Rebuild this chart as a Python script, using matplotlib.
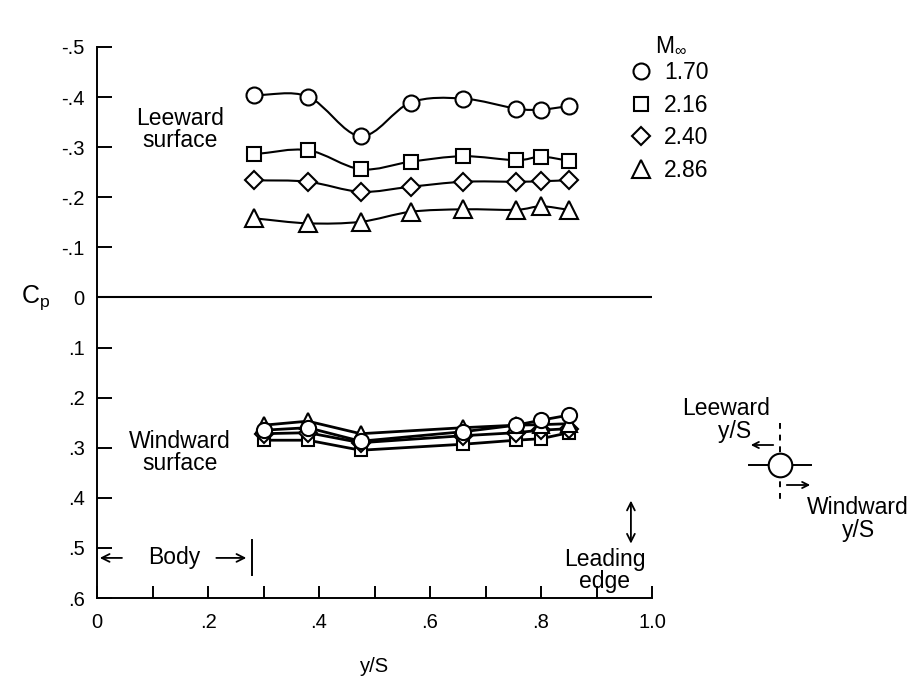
import matplotlib.pyplot as plt
import numpy as np
from matplotlib.path import Path
from matplotlib.patches import PathPatch, FancyArrowPatch
from matplotlib.lines import Line2D

plt.rcParams.update({
    "font.family": ["Liberation Sans", "DejaVu Sans"],
    "font.size": 14,
    "axes.linewidth": 1.4,
    "mathtext.fontset": "custom",
    "mathtext.rm": "Liberation Sans",
})

# Spanwise stations, y/S
ys_lee = [0.283, 0.38, 0.475, 0.565, 0.66, 0.755, 0.80, 0.85]
ys_win = [0.30, 0.38, 0.475, 0.66, 0.755, 0.80, 0.85]

mach = ["1.70", "2.16", "2.40", "2.86"]
markers = ["o", "s", "D", "^"]
msizes = [11.5, 9.5, 9.5, 12.5]

# Leeward surface Cp, one list per Mach number
cp_lee_170 = [-0.404, -0.401, -0.322, -0.389, -0.397, -0.377, -0.375, -0.382]
cp_lee_216 = [-0.286, -0.294, -0.256, -0.271, -0.282, -0.274, -0.281, -0.273]
cp_lee_240 = [-0.234, -0.231, -0.211, -0.221, -0.231, -0.231, -0.232, -0.234]
cp_lee_286 = [-0.158, -0.148, -0.151, -0.171, -0.176, -0.175, -0.182, -0.175]

# Windward surface Cp
cp_win_170 = [0.265, 0.260, 0.287, 0.268, 0.255, 0.245, 0.235]
cp_win_216 = [0.285, 0.285, 0.305, 0.293, 0.285, 0.282, 0.270]
cp_win_240 = [0.272, 0.270, 0.290, 0.276, 0.270, 0.265, 0.262]
cp_win_286 = [0.255, 0.247, 0.272, 0.260, 0.255, 0.254, 0.252]

cp_lee = [cp_lee_170, cp_lee_216, cp_lee_240, cp_lee_286]
cp_win = [cp_win_170, cp_win_216, cp_win_240, cp_win_286]

body_end = 0.28
leading_edge_mark = 0.962


def fair_curve(x, y):
    """Catmull-Rom fairing through the points, as cubic Bezier segments."""
    x = np.asarray(x, float)
    y = np.asarray(y, float)
    px = np.concatenate([[2 * x[0] - x[1]], x, [2 * x[-1] - x[-2]]])
    py = np.concatenate([[2 * y[0] - y[1]], y, [2 * y[-1] - y[-2]]])
    verts = [(x[0], y[0])]
    codes = [Path.MOVETO]
    for i in range(1, len(px) - 2):
        c1 = (px[i] + (px[i + 1] - px[i - 1]) / 6, py[i] + (py[i + 1] - py[i - 1]) / 6)
        c2 = (px[i + 1] - (px[i + 2] - px[i]) / 6, py[i + 1] - (py[i + 2] - py[i]) / 6)
        verts += [c1, c2, (px[i + 1], py[i + 1])]
        codes += [Path.CURVE4] * 3
    return Path(verts, codes)


W, H = 922, 695
fig = plt.figure(figsize=(W / 100, H / 100), dpi=100)
ax = fig.add_axes([97 / W, 97 / H, 555 / W, 551 / H])

# leeward: faired curves under open symbols
handles = []
for cp, mk, ms, lab in zip(cp_lee, markers, msizes, mach):
    ax.add_patch(PathPatch(fair_curve(ys_lee, cp), fill=False, lw=1.5,
                           edgecolor="black", zorder=2))
    h, = ax.plot(ys_lee, cp, linestyle="none", marker=mk, ms=ms, mfc="white",
                 mec="black", mew=1.5, zorder=3, label=lab)
    handles.append(h)

# windward: the four curves nearly coincide
win_order = [1, 2, 3, 0]
for i in win_order:
    ax.plot(ys_win, cp_win[i], color="black", lw=2.0, zorder=2)
for k, i in enumerate(win_order):
    ax.plot(ys_win, cp_win[i], linestyle="none", marker=markers[i],
            ms=msizes[i] * 0.95, mfc="white", mec="black", mew=1.5, zorder=3 + k)

ax.axhline(0, color="black", lw=1.5, zorder=1)

ax.set_xlim(0, 1.0)
ax.set_ylim(0.6, -0.5)
for s in ("top", "right"):
    ax.spines[s].set_visible(False)

xt = np.round(np.arange(0, 1.01, 0.1), 1)
xlabels = []
for v in xt:
    if v == 0:
        xlabels.append("0")
    elif v == 1:
        xlabels.append("1.0")
    elif round(v * 10) % 2 == 0:
        xlabels.append(f"{v:.1f}"[1:])
    else:
        xlabels.append("")
ax.set_xticks(xt)
ax.set_xticklabels(xlabels)
yt = np.round(np.arange(-0.5, 0.61, 0.1), 1)
ax.set_yticks(yt)
ax.set_yticklabels(["0" if v == 0 else f"{v:.1f}".replace("0.", ".") for v in yt])
ax.tick_params(axis="x", direction="in", length=9, width=1.4, pad=11, labelsize=14.5)
ax.tick_params(axis="y", direction="in", length=11, width=1.4, pad=9, labelsize=14.5)

ax.set_xlabel("y/S", labelpad=18, fontsize=14.5)
ax.text(-0.11, 0.0, r"$\mathregular{C_p}$", ha="center", va="center",
        fontsize=18, transform=ax.get_yaxis_transform())

txt = dict(fontsize=16.5, linespacing=0.95)
ax.text(0.15, -0.335, "Leeward\nsurface", ha="center", va="center", **txt)
ax.text(0.15, 0.31, "Windward\nsurface", ha="center", va="center", **txt)

# body extent
ax.annotate("", xy=(0.0, 0.52), xytext=(0.05, 0.52),
            arrowprops=dict(arrowstyle="->", lw=1.3, color="black"))
ax.annotate("", xy=(body_end - 0.006, 0.52), xytext=(0.21, 0.52),
            arrowprops=dict(arrowstyle="->", lw=1.3, color="black"))
ax.plot([body_end, body_end], [0.485, 0.555], color="black", lw=1.4)
ax.text(0.14, 0.52, "Body", ha="center", va="center", fontsize=16.5)

# leading edge marker
ax.annotate("", xy=(leading_edge_mark, 0.40), xytext=(leading_edge_mark, 0.497),
            arrowprops=dict(arrowstyle="<->", lw=1.3, color="black"))
ax.text(0.915, 0.545, "Leading\nedge", ha="center", va="center", **txt)

leg = fig.legend(handles=handles, labels=mach, loc="upper left",
                 bbox_to_anchor=(615 / W, 1 - 45 / H), frameon=False,
                 handlelength=0.9, handletextpad=0.55, labelspacing=0.42,
                 fontsize=16.5, borderpad=0.2)
fig.text(655 / W, 1 - 45 / H, r"$\mathregular{M_\infty}$", ha="left", va="center",
         fontsize=16.5)


# sketch of the section with spanwise directions, figure pixel coordinates
def fp(x, y):
    return (x / W, 1 - y / H)


cx, cy = 780, 465
sk = dict(color="black", lw=1.4, transform=fig.transFigure)
fig.add_artist(Line2D(*zip(fp(cx, cy - 42), fp(cx, cy + 35)), ls=(0, (3, 3)), **sk))
fig.add_artist(Line2D(*zip(fp(cx - 31, cy), fp(cx + 31, cy)), **sk))
fig.add_artist(Line2D([cx / W], [1 - cy / H], marker="o", ms=17, mfc="white",
                      mec="black", mew=1.5, transform=fig.transFigure, zorder=5))
fig.add_artist(FancyArrowPatch(fp(cx - 4, cy - 20), fp(cx - 32, cy - 20),
                               arrowstyle="->", mutation_scale=11,
                               transform=fig.transFigure, color="black", lw=1.3))
fig.add_artist(FancyArrowPatch(fp(cx + 4, cy + 20), fp(cx + 33, cy + 20),
                               arrowstyle="->", mutation_scale=11,
                               transform=fig.transFigure, color="black", lw=1.3))
fig.text(*fp(cx - 10, cy - 45), "Leeward\ny/S   ", ha="right", va="center",
         multialignment="right", **txt)
fig.text(*fp(cx + 78, cy + 54), "Windward\ny/S", ha="center", va="center", **txt)

fig.savefig("out.png", dpi=100)
